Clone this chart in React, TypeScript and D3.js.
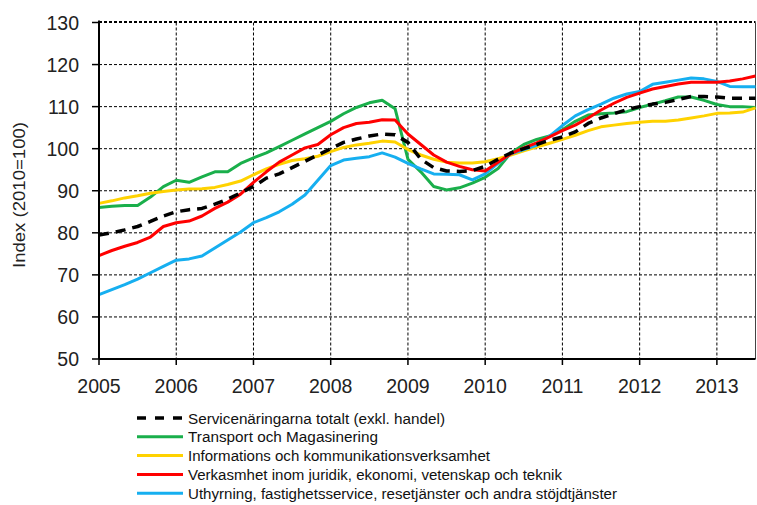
import * as d3 from "d3";

// two-month steps, Jan 2005 .. Jul 2013
const times = d3.range(52).map((k) => 2005 + k / 6);

const totalt = [
  79.5, 80.0, 80.7, 81.5, 82.7, 84.0, 85.0, 85.5, 85.8, 86.8, 88.0, 89.5,
  91.0, 93.0, 94.0, 95.5, 97.0, 98.5, 100.0, 101.5, 102.3, 103.0, 103.5, 103.3,
  101.5, 97.5, 95.5, 94.7, 94.6, 94.8, 95.8, 97.5, 99.0, 100.0, 101.0, 102.0,
  102.8, 104.0, 106.0, 107.3, 108.3, 109.3, 110.0, 110.6, 111.0, 111.7, 112.4, 112.4,
  112.3, 112.0, 112.0, 112.0,
];
const transport = [
  86.0, 86.3, 86.5, 86.5, 88.5, 91.0, 92.5, 92.0, 93.3, 94.5, 94.5, 96.5,
  97.8, 99.0, 100.5, 102.0, 103.5, 105.0, 106.5, 108.3, 109.8, 110.9, 111.5, 109.5,
  97.5, 94.5, 91.0, 90.2, 90.7, 91.8, 93.2, 95.3, 99.0, 101.0, 102.2, 103.0,
  104.5, 106.5, 108.0, 108.3, 108.5, 108.8, 109.8, 110.6, 111.4, 112.3, 112.3, 111.5,
  110.5, 110.0, 110.0, 109.8,
];
const information = [
  87.0, 87.6, 88.3, 88.8, 89.4, 89.8, 90.2, 90.4, 90.5, 90.8, 91.5, 92.3,
  93.8, 95.2, 96.3, 97.2, 97.6, 98.2, 99.3, 100.3, 100.9, 101.3, 101.8, 101.6,
  99.8, 98.5, 97.5, 96.8, 96.6, 96.6, 96.9, 97.6, 98.5, 99.5, 100.4, 101.3,
  102.2, 103.2, 104.3, 105.2, 105.6, 106.0, 106.3, 106.5, 106.5, 106.8, 107.3, 107.8,
  108.4, 108.5, 108.7, 109.7,
];
const juridik = [
  74.6, 75.8, 76.8, 77.7, 79.0, 81.5, 82.4, 82.8, 84.0, 85.8, 87.3, 89.2,
  92.0, 94.5, 96.8, 98.5, 100.2, 101.0, 103.3, 105.0, 106.0, 106.3, 106.9, 106.8,
  103.5, 101.0, 98.5, 96.8, 95.8, 95.0, 94.7, 96.8, 98.8, 100.2, 101.4, 102.8,
  104.3, 105.6, 107.3, 109.2, 110.8, 112.2, 113.2, 114.2, 114.8, 115.4, 115.8, 115.8,
  115.8, 116.1, 116.6, 117.3,
];
const uthyrning = [
  65.3, 66.5, 67.7, 69.0, 70.5, 72.0, 73.5, 73.8, 74.5, 76.4, 78.3, 80.2,
  82.4, 83.6, 85.0, 86.8, 89.0, 92.5, 96.0, 97.3, 97.7, 98.1, 99.0, 98.0,
  96.5, 95.2, 94.0, 93.9, 93.8, 92.6, 94.0, 96.5, 98.8, 99.8, 100.8, 103.0,
  105.5, 107.8, 109.3, 110.6, 112.0, 113.0, 113.6, 115.3, 115.8, 116.3, 116.8, 116.6,
  116.0, 114.8, 114.7, 114.7,
];

const yearTicks = [2005, 2006, 2007, 2008, 2009, 2010, 2011, 2012, 2013];
const valueTicks = [50, 60, 70, 80, 90, 100, 110, 120, 130];

const seriesNames = [
  "Servicenäringarna totalt (exkl. handel)",
  "Transport och Magasinering",
  "Informations och kommunikationsverksamhet",
  "Verkasmhet inom juridik, ekonomi, vetenskap och teknik",
  "Uthyrning, fastighetsservice, resetjänster och andra stöjdtjänster",
];
const seriesValues = [totalt, transport, information, juridik, uthyrning];
const seriesColors = ["#000000", "#1aaf4b", "#ffd200", "#ff0000", "#16aff0"];
// measured widths of the legend labels in the picture
const legendWidths = [257, 190, 302, 374, 429];

export default function App() {
  const width = 757;
  const height = 505;
  const left = 99, right = 755.5, top = 22.5, bottom = 359;

  const x = d3.scaleLinear().domain([2005, 2013.5]).range([left, right]);
  const y = d3.scaleLinear().domain([50, 130]).range([bottom, top]);

  const line = d3.line<number>()
    .x((_, i) => x(times[i]))
    .y((d) => y(d));

  const font = "'Liberation Sans', Arial, sans-serif";

  // draw order: coloured ones first, dashed total on top
  const order = [1, 2, 4, 3, 0];

  return (
    <svg width={width} height={height} style={{ position: "absolute", left: 0, top: 0, background: "#fff" }}>
      {/* grid */}
      <g stroke="#000" strokeWidth={1} strokeDasharray="3,2">
        {valueTicks.slice(1).map((v) => (
          <line key={"h" + v} x1={left} x2={right} y1={y(v)} y2={y(v)} />
        ))}
        {yearTicks.slice(1).map((t) => (
          <line key={"v" + t} x1={x(t)} x2={x(t)} y1={top} y2={bottom} />
        ))}
      </g>
      <line x1={left} x2={right} y1={top - 1} y2={top - 1} stroke="#000" strokeWidth={1} strokeDasharray="3,2" />
      <line x1={right} x2={right} y1={top} y2={bottom} stroke="#444" strokeWidth={1} />

      {/* series */}
      {order.map((i) => (
        <path
          key={seriesNames[i]}
          d={line(seriesValues[i]) || ""}
          fill="none"
          stroke={seriesColors[i]}
          strokeWidth={i === 0 ? 3.5 : 3}
          strokeDasharray={i === 0 ? "10,7" : undefined}
          strokeLinejoin="round"
        />
      ))}

      {/* axes */}
      <line x1={left} x2={left} y1={top - 2} y2={bottom} stroke="#000" strokeWidth={2} />
      <line x1={left} x2={right} y1={bottom} y2={bottom} stroke="#000" strokeWidth={2} />
      {valueTicks.map((v) => (
        <g key={"yt" + v}>
          <line x1={left - 7} x2={left} y1={y(v)} y2={y(v)} stroke="#000" strokeWidth={1.5} />
          <text x={79} y={y(v)} dy="0.36em" textAnchor="end" fontFamily={font} fontSize={19.5} fill="#222">
            {v}
          </text>
        </g>
      ))}
      {yearTicks.map((t) => (
        <g key={"xt" + t}>
          <line x1={x(t)} x2={x(t)} y1={bottom} y2={bottom + 6} stroke="#000" strokeWidth={1.5} />
          <text x={x(t)} y={393} textAnchor="middle" fontFamily={font} fontSize={19.5} fill="#222">
            {t}
          </text>
        </g>
      ))}
      <text
        transform={`translate(25,195) rotate(-90)`}
        textAnchor="middle"
        fontFamily={font}
        fontSize={16.5}
        fill="#222"
        textLength={146}
        lengthAdjust="spacingAndGlyphs"
      >
        Index (2010=100)
      </text>

      {/* legend */}
      {seriesNames.map((name, i) => {
        const ly = 418 + i * 18.8;
        return (
          <g key={"lg" + i}>
            <line
              x1={137}
              x2={183}
              y1={ly}
              y2={ly}
              stroke={seriesColors[i]}
              strokeWidth={i === 0 ? 3.5 : 3}
              strokeDasharray={i === 0 ? "9,9" : undefined}
            />
            <text
              x={188}
              y={ly}
              dy="0.36em"
              fontFamily={font}
              fontSize={15.5}
              fill="#111"
              textLength={legendWidths[i]}
              lengthAdjust="spacingAndGlyphs"
            >
              {name}
            </text>
          </g>
        );
      })}
    </svg>
  );
}
